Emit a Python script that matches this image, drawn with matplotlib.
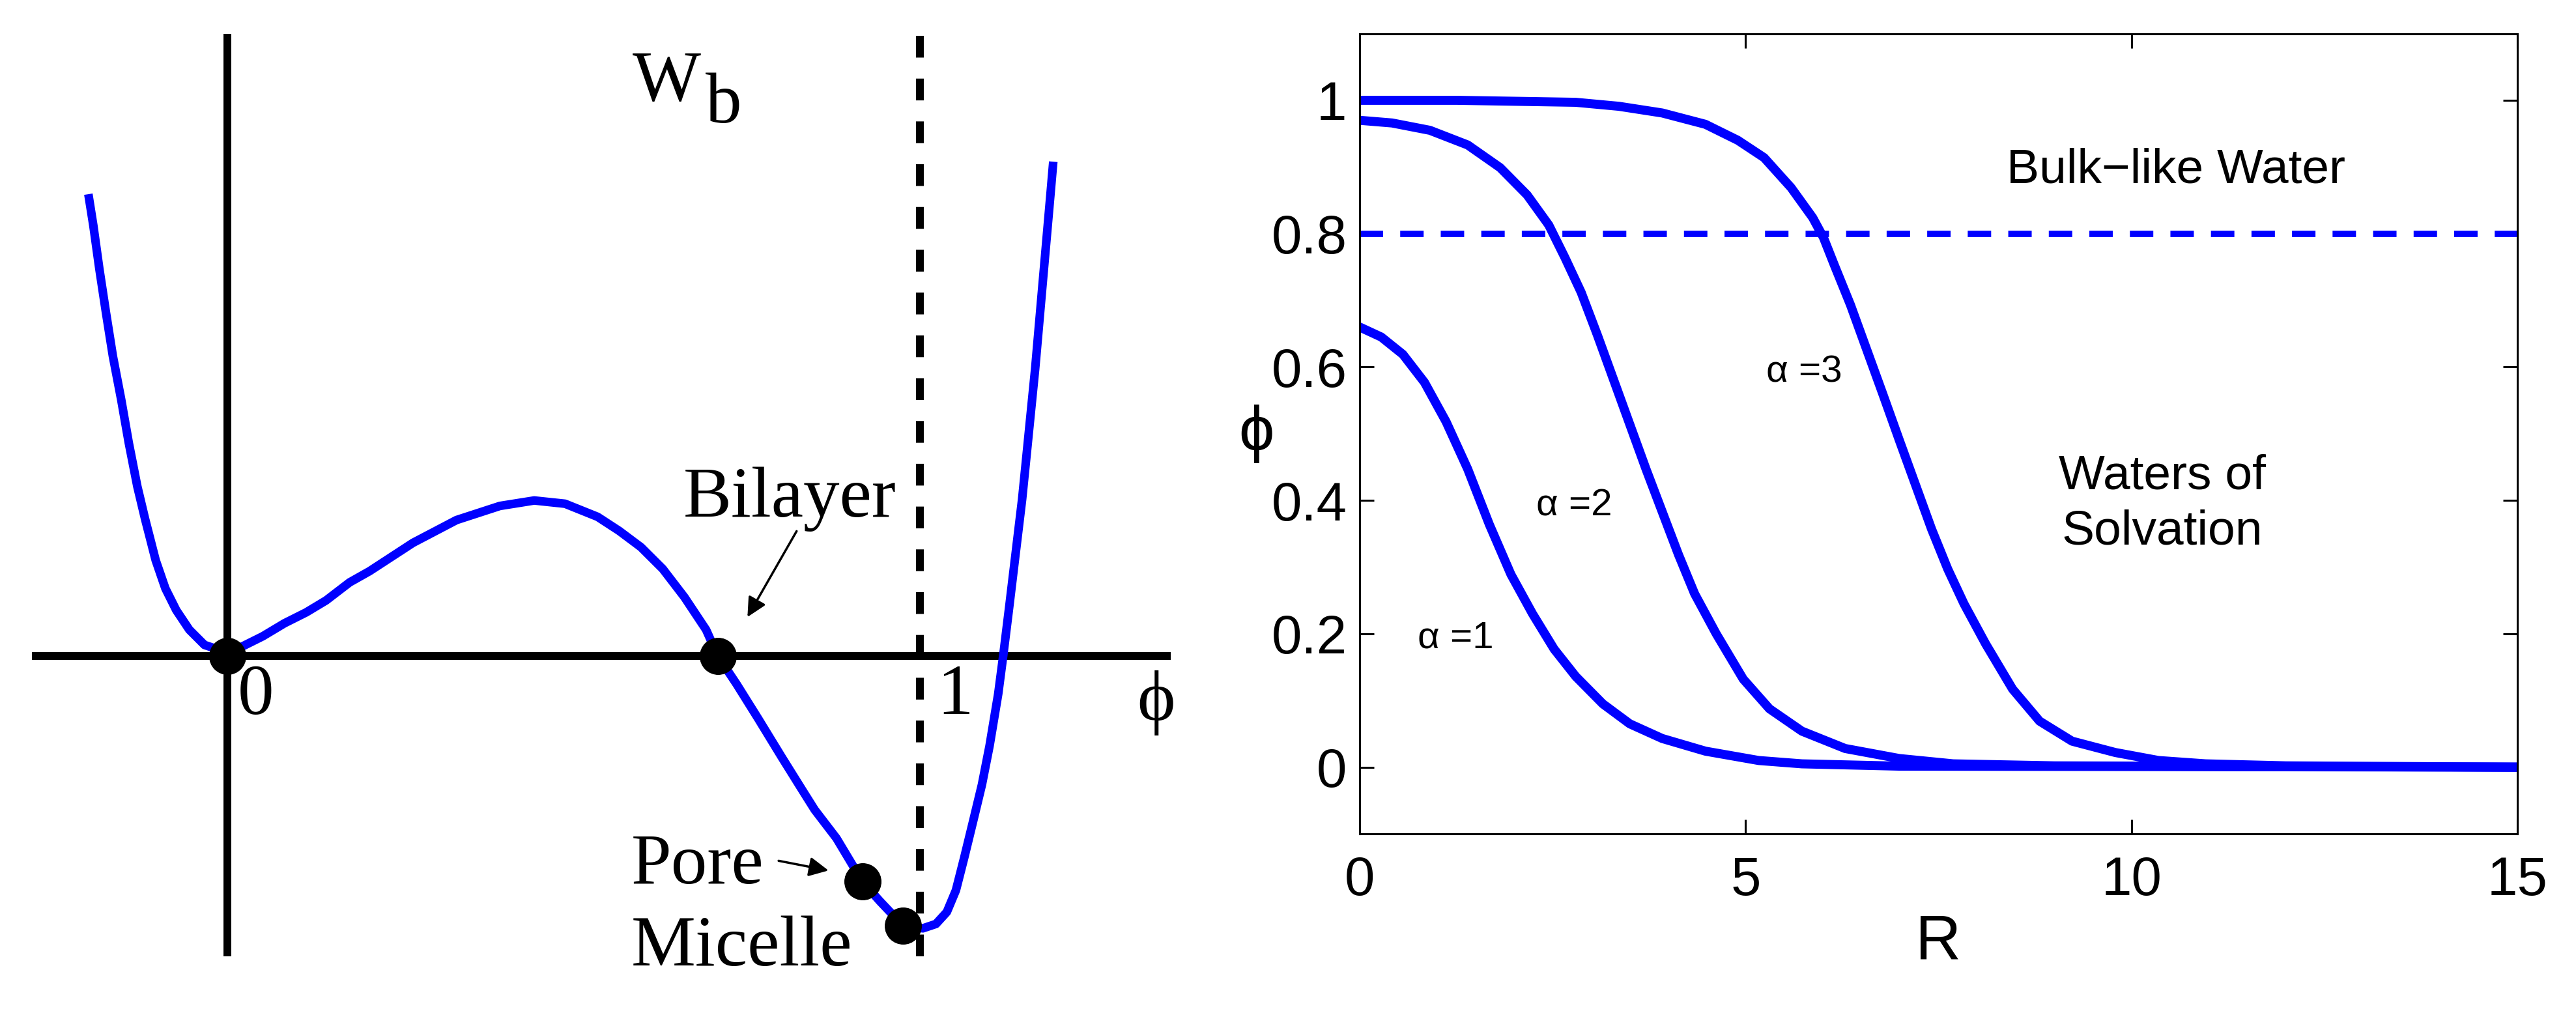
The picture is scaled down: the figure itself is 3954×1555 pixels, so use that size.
import matplotlib.pyplot as plt
import numpy as np

# left panel: W_b(phi)
phi_pts = [-0.2007, -0.1935, -0.1848, -0.1753, -0.1653, -0.1533, -0.1423, -0.1300, -0.1188,
           -0.1035, -0.0895, -0.0738, -0.0549, -0.0330, -0.0142, 0.0, 0.0198, 0.0511,
           0.0825, 0.1138, 0.1426, 0.1765, 0.2054, 0.2680, 0.3308, 0.3935, 0.4431,
           0.4876, 0.5346, 0.5659, 0.5973, 0.6287, 0.6600, 0.6913, 0.7081, 0.7352,
           0.7666, 0.8011, 0.8325, 0.8482, 0.8795, 0.9171, 0.9422, 0.9755, 1.0044,
           1.0232, 1.0389, 1.0520, 1.0640, 1.0770, 1.0896, 1.1006, 1.1131, 1.1203,
           1.1288, 1.1382, 1.1476, 1.1539, 1.1664, 1.1774, 1.1884, 1.1926]
wb_pts = [0.6666, 0.6212, 0.5585, 0.4958, 0.4327, 0.3701, 0.3073, 0.2446, 0.1976,
          0.1380, 0.0973, 0.0659, 0.0376, 0.0157, 0.0094, 0.0085, 0.0126, 0.0282,
          0.0470, 0.0627, 0.0800, 0.1060, 0.1223, 0.1631, 0.1960, 0.2164, 0.2243,
          0.2196, 0.2007, 0.1803, 0.1568, 0.1255, 0.0847, 0.0376, 0.0, -0.0407,
          -0.0909, -0.1473, -0.1976, -0.2225, -0.2634, -0.3261, -0.3543, -0.3895, -0.3935,
          -0.3872, -0.3700, -0.3387, -0.2916, -0.2383, -0.1860, -0.1300, -0.0550, 0.0,
          0.0690, 0.1474, 0.2258, 0.2885, 0.4139, 0.5394, 0.6648, 0.7135]
dot_phi = [0.0, 0.7081, 0.9171, 0.9755]
dot_wb = [0.0, 0.0, -0.3261, -0.3895]

# right panel: phi(R) for alpha = 1, 2, 3
r1 = [0, 0.28, 0.56, 0.84, 1.12, 1.40, 1.68, 1.96, 2.24, 2.52, 2.80, 3.15, 3.50, 3.92,
      4.48, 5.17, 5.73, 7.0, 15]
p1 = [0.660, 0.645, 0.619, 0.577, 0.518, 0.447, 0.364, 0.289, 0.230, 0.177, 0.136, 0.095,
      0.065, 0.043, 0.024, 0.010, 0.005, 0.0015, 0.0]
r2 = [0, 0.42, 0.91, 1.40, 1.82, 2.17, 2.45, 2.66, 2.87, 3.08, 3.29, 3.50, 3.71, 3.92,
      4.13, 4.34, 4.62, 4.97, 5.31, 5.73, 6.29, 6.99, 7.69, 9.0, 15]
p2 = [0.970, 0.966, 0.955, 0.933, 0.899, 0.858, 0.813, 0.764, 0.712, 0.648, 0.581, 0.514,
      0.447, 0.383, 0.319, 0.260, 0.200, 0.132, 0.0875, 0.054, 0.028, 0.013, 0.005, 0.002, 0.0]
r3 = [0, 1.26, 2.80, 3.36, 3.92, 4.48, 4.90, 5.24, 5.59, 5.87, 6.01, 6.15, 6.36, 6.57,
      6.78, 6.99, 7.20, 7.41, 7.62, 7.83, 8.11, 8.46, 8.81, 9.23, 9.79, 10.35, 10.96, 12.0, 15]
p3 = [1.0, 1.0, 0.997, 0.991, 0.981, 0.964, 0.940, 0.914, 0.869, 0.824, 0.794, 0.753,
      0.693, 0.626, 0.559, 0.491, 0.424, 0.357, 0.297, 0.245, 0.185, 0.117, 0.069, 0.039,
      0.022, 0.010, 0.005, 0.002, 0.0]
bulk_level = 0.8
xticks_r = [0, 5, 10, 15]
yticks_r = [0, 0.2, 0.4, 0.6, 0.8, 1]
yticklabels_r = ['0', '0.2', '0.4', '0.6', '0.8', '1']

blue = '#0000ff'
serif = ['Liberation Serif', 'DejaVu Serif']
sans = ['Liberation Sans', 'DejaVu Sans']

fig = plt.figure(figsize=(39.55, 15.55), dpi=100)

# ---- left panel (no axes, hand drawn coordinate lines) ----
ax1 = fig.add_axes([0, 0, 1900 / 3955, 1])
ax1.set_xlim(-0.3283, 1.4591)
ax1.set_ylim(-0.5158, 0.9470)
ax1.axis('off')
ax1.plot([-0.2826, 1.3622], [0, 0], color='k', lw=8.6, solid_capstyle='butt')
ax1.plot([0, 0], [-0.434, 0.8985], color='k', lw=8.6, solid_capstyle='butt')
ax1.plot([1, 1], [-0.434, 0.8985], color='k', lw=8.6, ls=(0, (2.8, 2.7)))
ax1.plot(phi_pts, wb_pts, color=blue, lw=9.5, solid_joinstyle='round', solid_capstyle='butt')
ax1.plot(dot_phi, dot_wb, 'o', color='k', ms=40, ls='none')

ax1.text(0.015, -0.084, '0', fontsize=80, family=serif, ha='left', va='baseline')
ax1.text(1.025, -0.084, '1', fontsize=80, family=serif, ha='left', va='baseline')
ax1.text(1.341, -0.093, 'ϕ', fontsize=80, family=serif, ha='center', va='baseline')
ax1.text(0.585, 0.802, 'W', fontsize=80, family=serif, ha='left', va='baseline')
ax1.text(0.690, 0.770, 'b', fontsize=80, family=serif, ha='left', va='baseline')
ax1.text(0.658, 0.201, 'Bilayer', fontsize=80, family=serif, ha='left', va='baseline')
ax1.text(0.583, -0.329, 'Pore', fontsize=80, family=serif, ha='left', va='baseline')
ax1.text(0.583, -0.447, 'Micelle', fontsize=80, family=serif, ha='left', va='baseline')
arrow = dict(arrowstyle='-|>', color='k', lw=2.5, mutation_scale=45, shrinkA=0, shrinkB=0)
ax1.annotate('', xy=(0.751, 0.056), xytext=(0.822, 0.180), arrowprops=arrow)
ax1.annotate('', xy=(0.868, -0.310), xytext=(0.796, -0.296), arrowprops=arrow)

# ---- right panel ----
ax2 = fig.add_axes([2087 / 3955, 1 - 1280 / 1555, (3864 - 2087) / 3955, (1280 - 51.6) / 1555])
for r, p in [(r1, p1), (r2, p2), (r3, p3)]:
    ax2.plot(r, p, color=blue, lw=10, solid_joinstyle='round')
ax2.axhline(bulk_level, color=blue, lw=7, ls=(0, (3.7, 2.7)))
ax2.set_xlim(0, 15)
ax2.set_ylim(-0.1, 1.1)
ax2.set_xticks(xticks_r)
ax2.set_yticks(yticks_r)
ax2.set_xticklabels([str(t) for t in xticks_r])
ax2.set_yticklabels(yticklabels_r)
ax2.tick_params(direction='in', length=16, width=2.2, top=True, right=True,
                labelsize=60, pad=14)
ax2.tick_params(axis='x', pad=24)
for lab in ax2.get_xticklabels() + ax2.get_yticklabels():
    lab.set_family(sans)
for s in ax2.spines.values():
    s.set_linewidth(2.2)
ax2.set_xlabel('R', fontsize=70, family=sans, labelpad=8)
ax2.set_ylabel('ϕ', fontsize=70, family=sans, rotation=0, ha='center', va='center')
ax2.yaxis.set_label_coords(-0.089, 0.5)

ax2.text(10.58, 0.895, 'Bulk−like Water', fontsize=54, family=sans, ha='center', va='center')
ax2.text(10.4, 0.395, 'Waters of\nSolvation', fontsize=54, family=sans, ha='center', va='center',
         linespacing=1.3)
ax2.text(5.76, 0.592, 'α =3', fontsize=42, family=sans, ha='center', va='center')
ax2.text(2.78, 0.392, 'α =2', fontsize=42, family=sans, ha='center', va='center')
ax2.text(1.245, 0.194, 'α =1', fontsize=42, family=sans, ha='center', va='center')

fig.savefig('out.png', dpi=100)
